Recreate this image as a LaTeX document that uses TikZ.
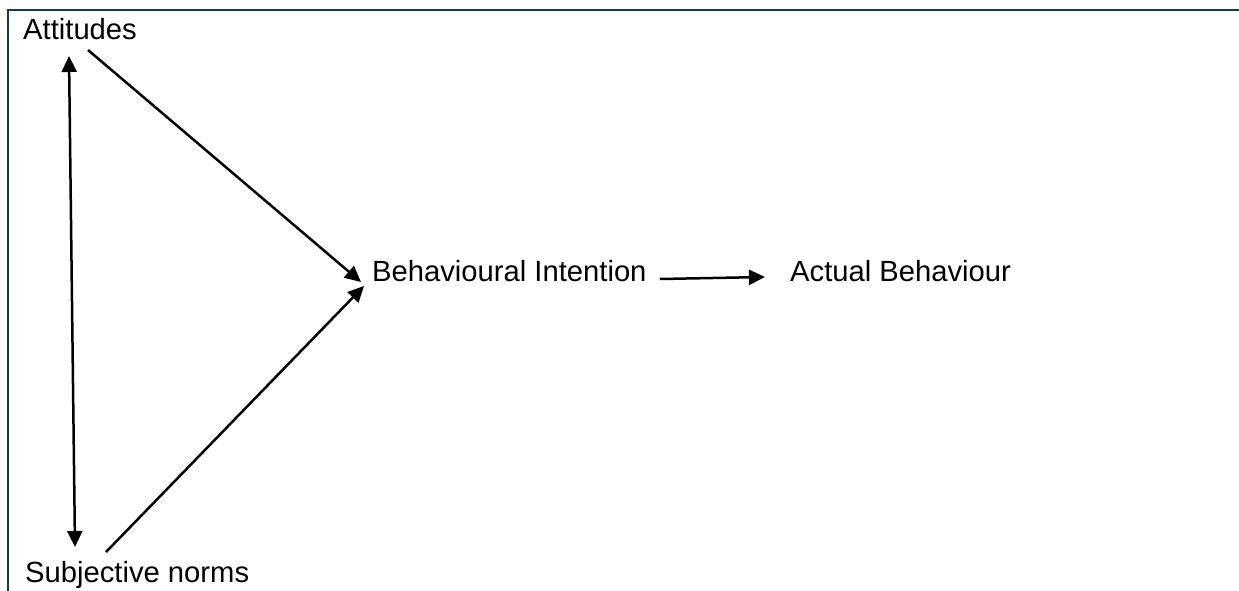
\documentclass[tikz,border=0pt]{standalone}
\usepackage{fontspec}
\setmainfont{Liberation Sans}
\usetikzlibrary{arrows.meta,calc}
\definecolor{framenavy}{RGB}{28,52,96}
\tikzset{
  label/.style={anchor=base west, inner sep=0pt, font=\fontsize{29.2}{34}\selectfont},
  link/.style={line width=2.5pt, -{Triangle[length=16pt,width=15pt]}},
  twoway/.style={line width=2.5pt, {Triangle[length=16pt,width=15pt]}-{Triangle[length=16pt,width=15pt]}}
}
\begin{document}
\begin{tikzpicture}[x=1pt,y=-1pt]
  \useasboundingbox (0,0) rectangle (1239,590);
  % frame on the top and left edges
  \draw[framenavy, line width=2pt] (8.3,591) -- (8.3,10) -- (1240,10);

  % labels
  \node[label] (att) at (23,39) {Attitudes};
  \node[label] (sn)  at (25,582) {Subjective norms};
  \node[label] (bi)  at (372,281) {Behavioural Intention};
  \node[label] (ab)  at (790,281.5) {Actual Behaviour};

  % connectors
  \draw[twoway] ($(att.base west)+(46,17)$) -- ($(sn.base west)+(50,-35)$);
  \draw[link] ($(att.base west)+(65,11)$) -- ($(bi.base west)+(-11,1)$);
  \draw[link] ($(sn.base west)+(81,-30)$) -- ($(bi.base west)+(-8,5)$);
  \draw[link] ($(bi.base east)+(13,-2)$) -- ($(ab.base west)+(-25,-4.5)$);
\end{tikzpicture}
\end{document}
